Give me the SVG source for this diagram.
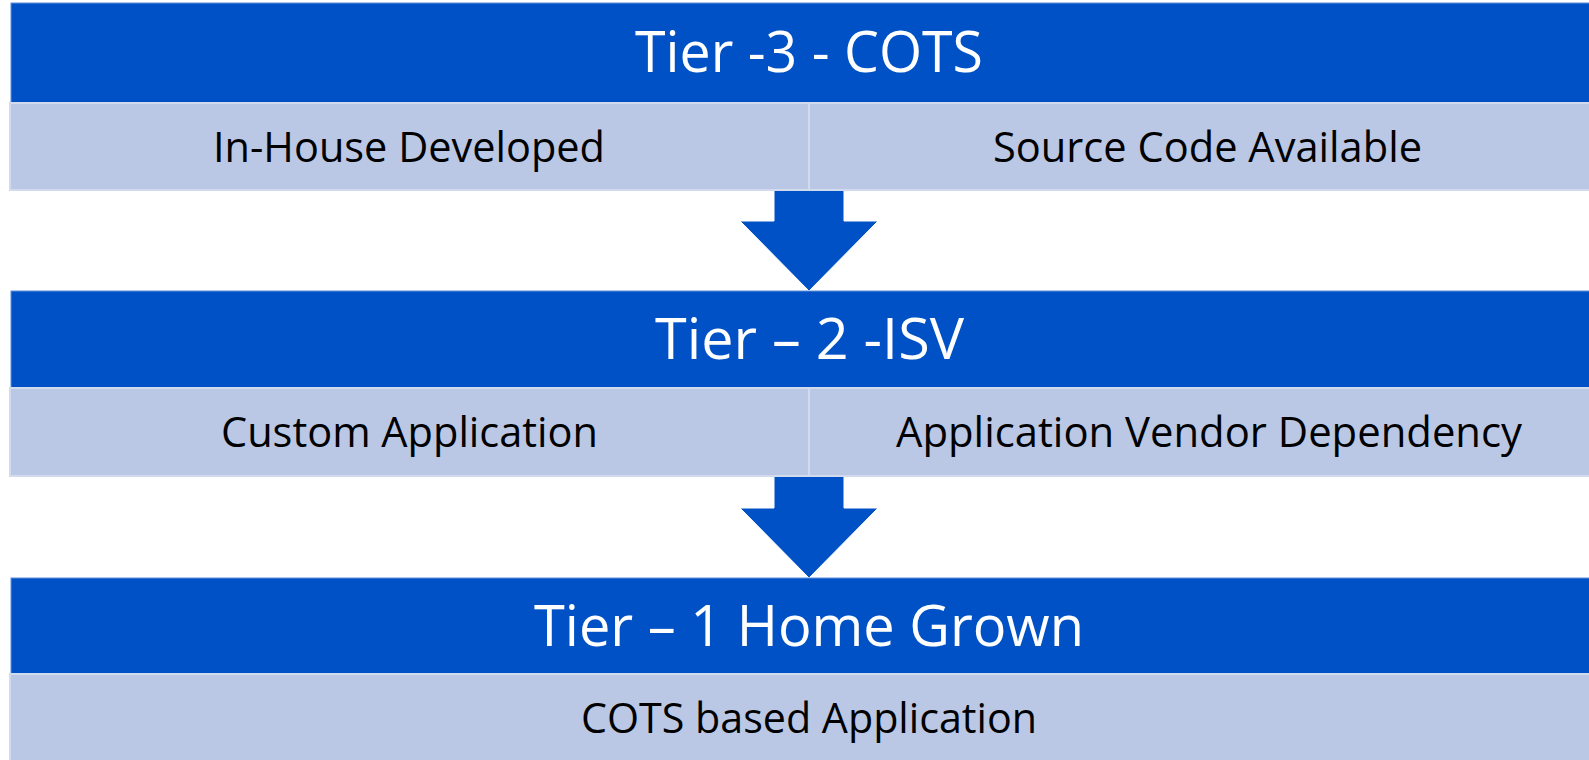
<svg xmlns="http://www.w3.org/2000/svg" width="1589" height="760" viewBox="0 0 1589 760">
<style>
.hdr{fill:#0051C6;stroke:#5E8FDA;stroke-width:1}
.row{fill:#BAC8E5;stroke:#D2DAEE;stroke-width:2}
.div{stroke:#D2DAEE;stroke-width:2}
.arrow{fill:#0051C6;stroke:#FFFFFF;stroke-width:1}
.t{font-family:"Open Sans","Noto Sans",sans-serif;fill:#FFFFFF;font-size:57px}
.b{font-family:"Open Sans","Noto Sans",sans-serif;fill:#000000;font-size:42px}
</style>
<rect width="1589" height="760" fill="#FFFFFF"/>
<g id="connectors">
<polygon class="arrow" points="774,190 844,190 844,221 878,221 809,291 740,221 774,221"/>
<polygon class="arrow" points="774,476 844,476 844,508 878,508 809,578 740,508 774,508"/>
</g>
<g id="tier3">
<rect class="hdr" x="11" y="3" width="1590" height="100"/>
<text class="t" x="635" y="72" textLength="348" lengthAdjust="spacingAndGlyphs">Tier -3 - COTS</text>
<rect class="row" x="10" y="103" width="1590" height="87"/>
<line class="div" x1="809" y1="103" x2="809" y2="190"/>
<text class="b" x="213" y="162" textLength="392" lengthAdjust="spacingAndGlyphs">In-House Developed</text>
<text class="b" x="993" y="162" textLength="429" lengthAdjust="spacingAndGlyphs">Source Code Available</text>
</g>
<g id="tier2">
<rect class="hdr" x="11" y="291" width="1590" height="97"/>
<text class="t" x="655" y="359" textLength="309" lengthAdjust="spacingAndGlyphs">Tier – 2 -ISV</text>
<rect class="row" x="10" y="388" width="1590" height="88"/>
<line class="div" x1="809" y1="388" x2="809" y2="476"/>
<text class="b" x="221" y="447" textLength="377" lengthAdjust="spacingAndGlyphs">Custom Application</text>
<text class="b" x="896" y="447" textLength="626" lengthAdjust="spacingAndGlyphs">Application Vendor Dependency</text>
</g>
<g id="tier1">
<rect class="hdr" x="11" y="578" width="1590" height="96"/>
<text class="t" x="534" y="646" textLength="550" lengthAdjust="spacingAndGlyphs">Tier – 1 Home Grown</text>
<rect class="row" x="10" y="674" width="1590" height="90"/>
<text class="b" x="581" y="733" textLength="456" lengthAdjust="spacingAndGlyphs">COTS based Application</text>
</g>
</svg>
